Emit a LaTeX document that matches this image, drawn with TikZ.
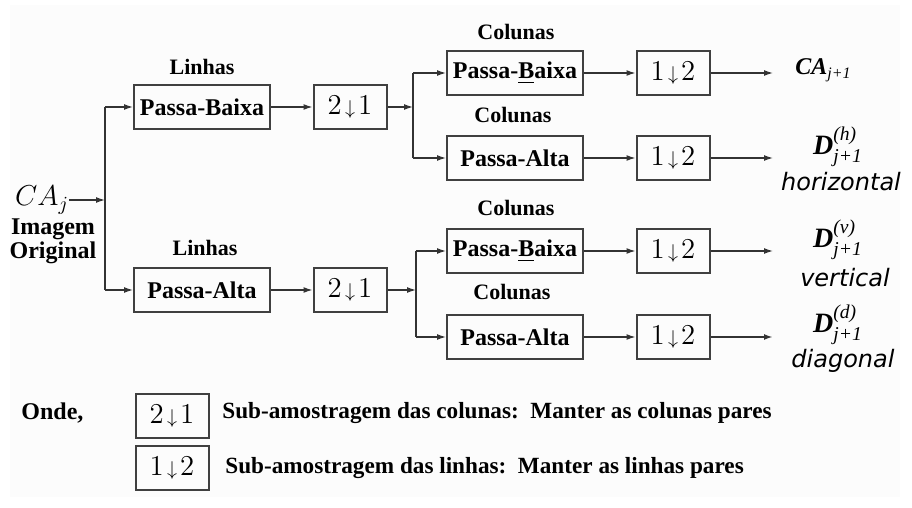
\documentclass[tikz,border=0pt]{standalone}
\usepackage{fontspec}
\setmainfont{Liberation Serif}
\newfontfamily\labfont{DejaVu Sans}
\usepackage{amsmath}
\usetikzlibrary{arrows.meta}
\newcommand{\dsub}[2]{$#1\mkern2mu{\scriptstyle\downarrow}\mkern2mu#2$}

\begin{document}
\begin{tikzpicture}[x=0.5pt,y=-0.5pt,
    filt/.style={draw=black!75,line width=1pt,rectangle,
       minimum width=68pt,minimum height=22pt,inner sep=1pt,
       font=\fontsize{12}{14}\selectfont\bfseries},
    dwn/.style={draw=black!75,line width=1pt,rectangle,
       minimum width=36.5pt,minimum height=22pt,inner sep=1pt,
       font=\fontsize{14.5}{16}\selectfont},
    lbl/.style={font=\fontsize{11}{13}\selectfont\bfseries,inner sep=0pt},
    outl/.style={font=\fontsize{12}{14}\selectfont,inner sep=0pt},
    wname/.style={font=\labfont\itshape\fontsize{12}{14}\selectfont,inner sep=0pt},
    conn/.style={black!80,line width=0.65pt,-{Latex[length=4.5pt,width=3pt]}},
    wire/.style={black!80,line width=0.65pt}]
    \useasboundingbox (0,0) rectangle (912,508);
    \fill[black!1] (10,5) rectangle (900,497);

    % entrada
    \node[outl,font=\fontsize{14}{15}\selectfont] (caj) at (42,200) {$CA_j$};
    \node[lbl,font=\fontsize{12}{14}\selectfont\bfseries,align=center] (img) at (53,241) {Imagem\\[-2pt]Original};
    \coordinate (s0) at (105,200);
    \coordinate (s0a) at (105,107);
    \coordinate (s0b) at (105,290);

    % filtragem das linhas
    \node[lbl] (lin1) at (202,67) {Linhas};
    \node[filt] (pb1) at (202,107) {Passa-Baixa};
    \node[dwn] (d1) at (350,107) {\dsub{2}{1}};
    \node[lbl] (lin2) at (205,248) {Linhas};
    \node[filt] (pa1) at (202,290) {Passa-Alta};
    \node[dwn] (d2) at (350,290) {\dsub{2}{1}};
    \coordinate (s1) at (413,107);
    \coordinate (s1a) at (413,73);
    \coordinate (s1b) at (413,158);
    \coordinate (s2) at (416,290);
    \coordinate (s2a) at (416,251);
    \coordinate (s2b) at (416,337);

    % filtragem das colunas
    \node[lbl] (col1) at (516,32) {Colunas};
    \node[filt] (cb1) at (515,73) {Passa-\underline{B}aixa};
    \node[dwn] (e1) at (673,73) {\dsub{1}{2}};
    \node[lbl] (col2) at (513,115) {Colunas};
    \node[filt] (ca1) at (515,158) {Passa-Alta};
    \node[dwn] (e2) at (673,158) {\dsub{1}{2}};
    \node[lbl] (col3) at (516,208) {Colunas};
    \node[filt] (cb2) at (515,251) {Passa-\underline{B}aixa};
    \node[dwn] (e3) at (673,251) {\dsub{1}{2}};
    \node[lbl] (col4) at (512,292) {Colunas};
    \node[filt] (ca2) at (515,337) {Passa-Alta};
    \node[dwn] (e4) at (673,337) {\dsub{1}{2}};

    \coordinate (o1) at (773,73);
    \coordinate (o2) at (773,158);
    \coordinate (o3) at (773,251);
    \coordinate (o4) at (773,337);

    % saidas
    \node[outl,anchor=west] (ca) at (795,70) {\textbf{\textit{CA}}\textsubscript{\textit{j+1}}};
    \node[outl,font=\fontsize{14}{15}\selectfont] (dh) at (838,147) {$\textbf{\textit{D}}^{\textit{(h)}}_{\textit{j+1}}$};
    \node[wname] (hor) at (841,182) {horizontal};
    \node[outl,font=\fontsize{14}{15}\selectfont] (dv) at (838,240) {$\textbf{\textit{D}}^{\textit{(v)}}_{\textit{j+1}}$};
    \node[wname] (ver) at (845,278) {vertical};
    \node[outl,font=\fontsize{14}{15}\selectfont] (dd) at (838,325) {$\textbf{\textit{D}}^{\textit{(d)}}_{\textit{j+1}}$};
    \node[wname] (dia) at (843,361) {diagonal};

    \draw[conn] (caj) -- (s0);
    \draw[wire] (s0a) -- (s0b);
    \draw[conn] (s0a) -- (pb1);
    \draw[conn] (s0b) -- (pa1);
    \draw[conn] (pb1) -- (d1);
    \draw[conn] (pa1) -- (d2);
    \draw[conn] (d1) -- (s1);
    \draw[conn] (d2) -- (s2);
    \draw[wire] (s1a) -- (s1b);
    \draw[wire] (s2a) -- (s2b);
    \draw[conn] (s1a) -- (cb1);
    \draw[conn] (s1b) -- (ca1);
    \draw[conn] (s2a) -- (cb2);
    \draw[conn] (s2b) -- (ca2);
    \draw[conn] (cb1) -- (e1);
    \draw[conn] (ca1) -- (e2);
    \draw[conn] (cb2) -- (e3);
    \draw[conn] (ca2) -- (e4);
    \draw[conn] (e1) -- (o1);
    \draw[conn] (e2) -- (o2);
    \draw[conn] (e3) -- (o3);
    \draw[conn,line width=1pt] (e4) -- (o4);

    % legenda
    \node[lbl,font=\fontsize{12}{14}\selectfont\bfseries,anchor=west] (onde) at (21,413) {Onde,};
    \node[dwn] (lg1) at (172,416) {\dsub{2}{1}};
    \node[dwn] (lg2) at (172,468) {\dsub{1}{2}};
    \node[lbl,font=\fontsize{11.6}{14}\selectfont\bfseries,anchor=west] (t1) at (222,413) {Sub-amostragem das colunas:\ \ Manter as colunas pares};
    \node[lbl,font=\fontsize{11.6}{14}\selectfont\bfseries,anchor=west] (t2) at (225,468) {Sub-amostragem das linhas:\ \ Manter as linhas pares};
\end{tikzpicture}
\end{document}
